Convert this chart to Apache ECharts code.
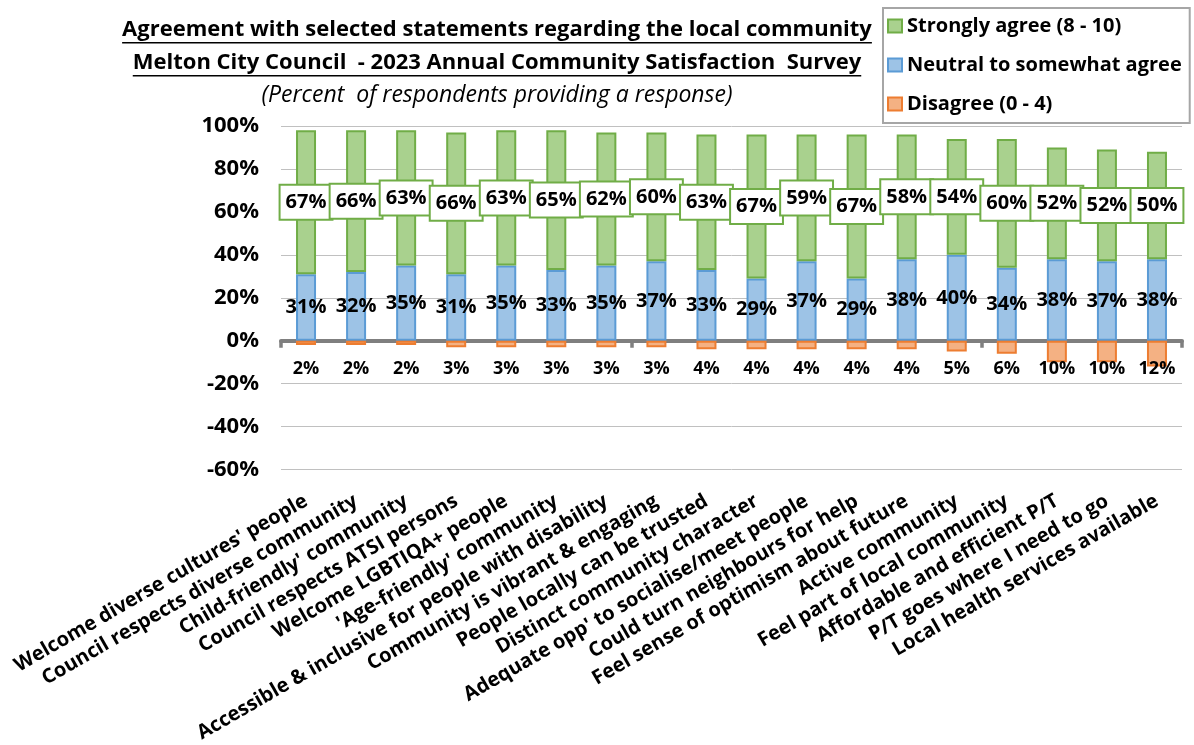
<!DOCTYPE html>
<html>
<head>
<meta charset="utf-8">
<script src="https://cdn.jsdelivr.net/npm/echarts@6/dist/echarts.min.js"></script>
<style>
  html, body { margin: 0; padding: 0; background: #fff; }
  #chart { width: 1194px; height: 745px; }
</style>
</head>
<body>
<div id="chart"></div>
<script>
// Survey statements, in display order
const categories = [
  "Welcome diverse cultures' people",
  "Council respects diverse community",
  "Child-friendly' community",
  "Council respects ATSI persons",
  "Welcome LGBTIQA+ people",
  "'Age-friendly' community",
  "Accessible & inclusive for people with disability",
  "Community is vibrant & engaging",
  "People locally can be trusted",
  "Distinct community character",
  "Adequate opp' to socialise/meet people",
  "Could turn neighbours for help",
  "Feel sense of optimism about future",
  "Active community",
  "Feel part of local community",
  "Affordable and efficient P/T",
  "P/T goes where I need to go",
  "Local health services available"
];

// Percent of respondents in each response band
const stronglyAgree = [67, 66, 63, 66, 63, 65, 62, 60, 63, 67, 59, 67, 58, 54, 60, 52, 52, 50];
const neutral       = [31, 32, 35, 31, 35, 33, 35, 37, 33, 29, 37, 29, 38, 40, 34, 38, 37, 38];
const disagree      = [2, 2, 2, 3, 3, 3, 3, 3, 4, 4, 4, 4, 4, 5, 6, 10, 10, 12];

// Value axis range and step (percent)
const yMin = -60;
const yMax = 100;
const yStep = 20;

const seriesNames = {
  strong: 'Strongly agree (8 - 10)',
  neutral: 'Neutral to somewhat agree',
  disagree: 'Disagree (0 - 4)'
};

const titleLines = [
  'Agreement with selected statements regarding the local community',
  'Melton City Council  - 2023 Annual Community Satisfaction  Survey',
  '(Percent  of respondents providing a response)'
];

const FONT_FAMILY = '"Open Sans", "Noto Sans", "DejaVu Sans", sans-serif';

// Measures text width so the heading underlines span exactly their line
const measureCtx = document.createElement('canvas').getContext('2d');
function textWidth(text, font) {
  measureCtx.font = font;
  return measureCtx.measureText(text).width;
}

const titleCenterX = 497;
const headingFont = 'bold 22px ' + FONT_FAMILY;
const subFont = 'italic 23px ' + FONT_FAMILY;

function headingGraphics() {
  const out = [];
  const rows = [
    { text: titleLines[0], y: 30, font: headingFont, underlineY: 42 },
    { text: titleLines[1], y: 63, font: headingFont, underlineY: 75 },
    { text: titleLines[2], y: 95, font: subFont, underlineY: null }
  ];
  rows.forEach(function (r) {
    out.push({
      type: 'text',
      x: titleCenterX,
      y: r.y,
      style: {
        text: r.text,
        font: r.font,
        fill: '#000',
        align: 'center',
        verticalAlign: 'middle'
      }
    });
    if (r.underlineY !== null) {
      const w = textWidth(r.text, r.font);
      out.push({
        type: 'rect',
        shape: { x: titleCenterX - w / 2, y: r.underlineY, width: w, height: 1.5 },
        style: { fill: '#000' }
      });
    }
  });
  return out;
}

const chart = echarts.init(document.getElementById('chart'), null, { renderer: 'canvas' });

const labelBase = {
  show: true,
  color: '#000',
  fontFamily: FONT_FAMILY,
  fontWeight: 'bold',
  fontSize: 20
};

const option = {
  animation: false,
  backgroundColor: '#fff',
  textStyle: { fontFamily: FONT_FAMILY },
  graphic: headingGraphics(),
  legend: {
    orient: 'vertical',
    left: 883,
    top: 8,
    padding: [8, 8, 9, 4],
    itemGap: 19,
    itemWidth: 14,
    itemHeight: 13,
    icon: 'rect',
    borderColor: '#A6A6A6',
    borderWidth: 2,
    backgroundColor: '#fff',
    data: [seriesNames.strong, seriesNames.neutral, seriesNames.disagree],
    textStyle: {
      fontFamily: FONT_FAMILY,
      fontSize: 20,
      fontWeight: 'bold',
      color: '#000'
    }
  },
  grid: {
    left: 281,
    right: 12,
    top: 126,
    bottom: 272
  },
  xAxis: [
    {
      // category labels along the bottom edge
      type: 'category',
      data: categories,
      position: 'bottom',
      axisLine: { show: false, onZero: false },
      axisTick: { show: false },
      axisLabel: {
        interval: 0,
        rotate: 30,
        margin: 30,
        color: '#000',
        fontFamily: FONT_FAMILY,
        fontWeight: 'bold',
        fontSize: 20
      }
    },
    {
      // heavy baseline at 0% with boundary ticks
      type: 'category',
      data: categories,
      position: 'bottom',
      boundaryGap: true,
      axisLine: { show: true, onZero: true, lineStyle: { color: '#7F7F7F', width: 4 } },
      axisTick: { show: true, length: 7, lineStyle: { color: '#7F7F7F', width: 3.5 } },
      axisLabel: { show: false },
      splitLine: { show: false }
    }
  ],
  yAxis: {
    type: 'value',
    min: yMin,
    max: yMax,
    interval: yStep,
    axisLine: { show: false },
    axisTick: { show: false },
    splitLine: { lineStyle: { color: '#C0C0C0', width: 1 } },
    axisLabel: {
      formatter: '{value}%',
      margin: 22,
      color: '#000',
      fontFamily: FONT_FAMILY,
      fontWeight: 'bold',
      fontSize: 22
    }
  },
  series: [
    {
      name: seriesNames.neutral,
      type: 'bar',
      stack: 'total',
      xAxisIndex: 0,
      barWidth: 20,
      data: neutral,
      itemStyle: { color: '#9DC3E6', borderColor: '#5B9BD5', borderWidth: 2 },
      label: Object.assign({}, labelBase, {
        position: 'inside',
        formatter: '{c}%'
      }),
      z: 2
    },
    {
      name: seriesNames.strong,
      type: 'bar',
      stack: 'total',
      xAxisIndex: 0,
      barWidth: 20,
      data: stronglyAgree,
      itemStyle: { color: '#A9D18E', borderColor: '#70AD47', borderWidth: 2 },
      label: Object.assign({}, labelBase, {
        position: 'inside',
        formatter: '{c}%',
        backgroundColor: '#fff',
        borderColor: '#70AD47',
        borderWidth: 2,
        padding: [7, 5, 6, 5]
      }),
      z: 3
    },
    {
      name: seriesNames.disagree,
      type: 'bar',
      stack: 'total',
      xAxisIndex: 0,
      barWidth: 20,
      data: disagree.map(function (v) { return -v; }),
      itemStyle: { color: '#F4B183', borderColor: '#ED7D31', borderWidth: 2 },
      label: Object.assign({}, labelBase, {
        position: 'insideTop',
        offset: [0, 14],
        fontSize: 18,
        formatter: function (p) { return Math.abs(p.value) + '%'; }
      }),
      z: 2
    }
  ]
};

chart.setOption(option);
</script>
</body>
</html>
